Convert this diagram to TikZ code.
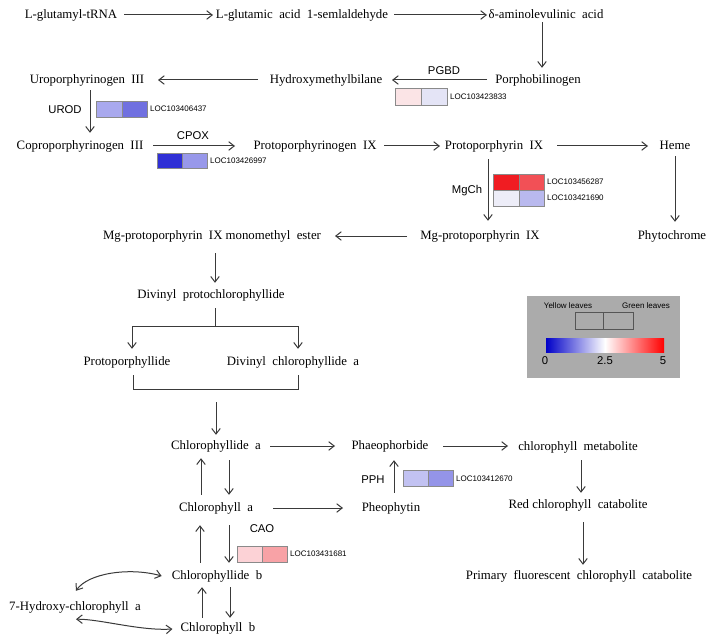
\documentclass[tikz,border=0pt]{standalone}
\usepackage{fontspec}
\setmainfont{Liberation Serif}[WordSpace=2]
\setsansfont{Liberation Sans}
\usetikzlibrary{arrows.meta,calc}
\definecolor{ln}{HTML}{3A3A3A}
\definecolor{cellline}{HTML}{8A8A8A}
\definecolor{pgA}{HTML}{FBE4E6}
\definecolor{pgB}{HTML}{E4E4F6}
\definecolor{urA}{HTML}{A9A9EE}
\definecolor{urB}{HTML}{7070E0}
\definecolor{cpA}{HTML}{3030D6}
\definecolor{cpB}{HTML}{9898EA}
\definecolor{mgA}{HTML}{F01C22}
\definecolor{mgB}{HTML}{F25056}
\definecolor{mgC}{HTML}{EDEDF8}
\definecolor{mgD}{HTML}{B9B9EE}
\definecolor{phA}{HTML}{C2C2F2}
\definecolor{phB}{HTML}{9494E8}
\definecolor{caA}{HTML}{FCD2D6}
\definecolor{caB}{HTML}{F8A2A6}
\definecolor{legbg}{HTML}{ABABAB}
\definecolor{legbox}{HTML}{555555}
\definecolor{legblue}{HTML}{0000C8}
\begin{document}
\begin{tikzpicture}[x=1bp,y=-1bp,
  cmp/.style={inner sep=0pt,text height=9.5bp,text depth=2.5bp,font=\fontsize{12.8bp}{14bp}\selectfont},
  enz/.style={inner sep=0pt,font=\sffamily\fontsize{11.3bp}{13bp}\selectfont},
  loc/.style={anchor=west,inner sep=0pt,font=\sffamily\fontsize{8bp}{9bp}\selectfont},
  legtxt/.style={inner sep=0pt,font=\sffamily\fontsize{8bp}{9bp}\selectfont},
  legnum/.style={inner sep=0pt,font=\sffamily\fontsize{11.3bp}{13bp}\selectfont},
  link/.style={draw=ln,line width=1bp},
  arr/.style={link,-{Straight Barb[length=5.5bp,width=8.5bp]}},
  darr/.style={link,{Straight Barb[length=5.5bp,width=8.5bp]}-{Straight Barb[length=5.5bp,width=8.5bp]}},
  cell/.style={draw=cellline,line width=0.6bp},
]
\useasboundingbox (0,0) rectangle (708,641);
\fill[white] (0,0) rectangle (708,641);

% compounds
\node[cmp] (glu) at (71,15) {L-glutamyl-tRNA};
\node[cmp] (gsa) at (302,15) {L-glutamic acid 1-semlaldehyde};
\node[cmp] (ala) at (546,15) {δ-aminolevulinic acid};
\node[cmp] (pbg) at (538,80) {Porphobilinogen};
\node[cmp] (hmb) at (326,80) {Hydroxymethylbilane};
\node[cmp] (uro) at (87,80) {Uroporphyrinogen III};
\node[cmp] (copro) at (80,146) {Coproporphyrinogen III};
\node[cmp] (protogen) at (315,146) {Protoporphyrinogen IX};
\node[cmp] (proto) at (494,146) {Protoporphyrin IX};
\node[cmp] (heme) at (675,146) {Heme};
\node[cmp] (phy) at (672,236) {Phytochrome};
\node[cmp] (mgp) at (480,236) {Mg-protoporphyrin IX};
\node[cmp] (mgme) at (212,236) {Mg-protoporphyrin IX\hspace{-0.25em} monomethyl ester};
\node[cmp] (dvp) at (211,295) {Divinyl protochlorophyllide};
\node[cmp] (pp) at (127,362) {Protoporphyllide};
\node[cmp] (dvc) at (293,362) {Divinyl chlorophyllide a};
\node[cmp] (chlda) at (216,446) {Chlorophyllide a};
\node[cmp] (phb) at (390,446) {Phaeophorbide};
\node[cmp] (cm) at (578,447) {chlorophyll metabolite};
\node[cmp] (rcc) at (578,505) {Red\hspace{-0.25em} chlorophyll catabolite};
\node[cmp] (pfcc) at (579,576) {Primary fluorescent chlorophyll catabolite};
\node[cmp] (chla) at (216,508) {Chlorophyll a};
\node[cmp] (pheo) at (391,508) {Pheophytin};
\node[cmp] (chldb) at (217,576) {Chlorophyllide b};
\node[cmp] (chlb) at (218,628) {Chlorophyll b};
\node[cmp] (hyd) at (75,607) {7-Hydroxy-chlorophyll a};

% enzymes
\node[enz] (pgbd) at (444,71) {PGBD};
\node[enz] (urod) at (65,110) {UROD};
\node[enz] (cpox) at (193,136) {CPOX};
\node[enz] (mgch) at (467,191) {MgCh};
\node[enz] (pph) at (373,480) {PPH};
\node[enz] (cao) at (262,529) {CAO};

% heatmaps
\filldraw[cell,fill=pgA] (395,88) rectangle (421,105);
\filldraw[cell,fill=pgB] (421,88) rectangle (447,105);
\node[loc] (l1) at (450,97) {LOC103423833};
\filldraw[cell,fill=urA] (96,101) rectangle (122,117);
\filldraw[cell,fill=urB] (122,101) rectangle (147,117);
\node[loc] (l2) at (150,109) {LOC103406437};
\filldraw[cell,fill=cpA] (157,153) rectangle (182,168);
\filldraw[cell,fill=cpB] (182,153) rectangle (207,168);
\node[loc] (l3) at (210,161) {LOC103426997};
\filldraw[cell,fill=mgA] (493,174) rectangle (519,190);
\filldraw[cell,fill=mgB] (519,174) rectangle (544,190);
\filldraw[cell,fill=mgC] (493,190) rectangle (519,206);
\filldraw[cell,fill=mgD] (519,190) rectangle (544,206);
\node[loc] (l4) at (547,182) {LOC103456287};
\node[loc] (l5) at (547,198) {LOC103421690};
\filldraw[cell,fill=phA] (403,470) rectangle (428,486);
\filldraw[cell,fill=phB] (428,470) rectangle (453,486);
\node[loc] (l6) at (456,479) {LOC103412670};
\filldraw[cell,fill=caA] (237,546) rectangle (262,562);
\filldraw[cell,fill=caB] (262,546) rectangle (287,562);
\node[loc] (l7) at (290,554) {LOC103431681};

% legend
\fill[legbg] (527,296) rectangle (680,378);
\node[legtxt] (yl) at (568,306) {Yellow leaves};
\node[legtxt] (gl) at (646,306) {Green leaves};
\draw[draw=legbox,line width=0.8bp] (575,312) rectangle (633,329);
\draw[draw=legbox,line width=0.8bp] (603,312) -- (603,329);
\shade[left color=legblue,right color=red,middle color=white] (546,338) rectangle (664,352);
\node[legnum] (n0) at (545,361) {0};
\node[legnum] (n1) at (605,361) {2.5};
\node[legnum] (n2) at (663,361) {5};

% horizontal connectors
\draw[arr] (124,0 |- glu.east) -- (213,0 |- gsa.west);
\draw[arr] (394,0 |- gsa.east) -- (487,0 |- ala.west);
\draw[arr] (487,0 |- pbg.west) -- (392,0 |- hmb.east);
\draw[arr] (258,0 |- hmb.west) -- (158,0 |- uro.east);
\draw[arr] (153,0 |- copro.east) -- (235,0 |- protogen.west);
\draw[arr] (384,0 |- protogen.east) -- (440,0 |- proto.west);
\draw[arr] (557,0 |- proto.east) -- (648,0 |- heme.west);
\draw[arr] (407,0 |- mgp.west) -- (335,0 |- mgme.east);
\draw[arr] (270,0 |- chlda.east) -- (335,0 |- phb.west);
\draw[arr] (443,0 |- phb.east) -- (508,0 |- phb.east);
\draw[arr] (273,0 |- chla.east) -- (343,0 |- pheo.west);

% vertical connectors
\draw[arr,shorten <=1bp,shorten >=6bp] (542,0 |- ala.south) -- (542,0 |- pbg.north);
\draw[arr,shorten <=4bp,shorten >=7bp] (90,0 |- uro.south) -- (90,0 |- copro.north);
\draw[arr,shorten <=4bp,shorten >=8bp] (675,0 |- heme.south) -- (675,0 |- phy.north);
\draw[arr,shorten <=7bp,shorten >=9bp] (488,0 |- proto.south) -- (488,0 |- mgp.north);
\draw[arr,shorten <=11bp,shorten >=6bp] (215,0 |- mgme.south) -- (215,0 |- dvp.north);
\draw[arr,shorten <=7bp,shorten >=6bp] (581,0 |- cm.south) -- (581,0 |- rcc.north);
\draw[arr,shorten <=11bp,shorten >=5bp] (583,0 |- rcc.south) -- (583,0 |- pfcc.north);
\draw[arr,shorten <=7bp,shorten >=6bp] (201,0 |- chla.north) -- (201,0 |- chlda.south);
\draw[arr,shorten <=8bp,shorten >=7bp] (229,0 |- chlda.south) -- (229,0 |- chla.north);
\draw[arr,shorten <=9bp,shorten >=8bp] (394,0 |- pheo.north) -- (394,0 |- phb.south);
\draw[arr,shorten <=7bp,shorten >=11bp] (200,0 |- chldb.north) -- (200,0 |- chla.south);
\draw[arr,shorten <=11bp,shorten >=7bp] (229,0 |- chla.south) -- (229,0 |- chldb.north);
\draw[arr,shorten <=4bp,shorten >=5bp] (202,0 |- chlb.north) -- (202,0 |- chldb.south);
\draw[arr,shorten <=5bp,shorten >=4bp] (230,0 |- chldb.south) -- (230,0 |- chlb.north);

% branch and merge
\coordinate (split) at (215,326);
\coordinate (join) at (216,389);
\draw[link,shorten <=7bp] (215,0 |- dvp.south) -- (split);
\draw[link] (132,0 |- split) -- (298,0 |- split);
\draw[arr,shorten >=7bp] (132,0 |- split) -- (132,0 |- pp.north);
\draw[arr,shorten >=7bp] (298,0 |- split) -- (298,0 |- dvc.north);
\draw[link,shorten <=7bp,shorten >=7bp] (133,0 |- pp.south) -- (133,0 |- join) -- (298,0 |- join) -- (298,0 |- dvc.south);
\draw[arr,shorten <=13bp,shorten >=5bp] (join) -- (216,0 |- chlda.north);

% curved connectors
\draw[darr] ($(hyd.north)+(1,-10)$) .. controls (88,573) and (130,567) .. ($(chldb.west)+(-10,0)$);
\draw[darr] ($(hyd.south)+(1,6)$) .. controls (100,619) and (140,631) .. ($(chlb.west)+(-8,1)$);
\end{tikzpicture}
\end{document}
